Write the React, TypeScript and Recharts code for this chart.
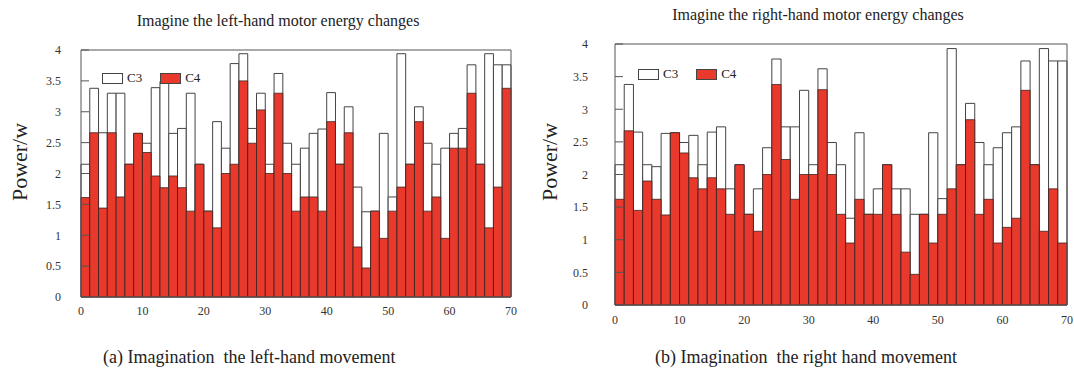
import { BarChart, Bar, XAxis, YAxis, Legend } from 'recharts';

const idx = Array.from({ length: 49 }, (_, i) => i + 1);

const leftC3 = [2.15, 3.38, 2.66, 3.3, 3.3, 2.15, 2.65, 2.49, 3.39, 3.49, 2.65, 2.73, 3.3, 2.15, 1.39, 2.84, 2.41, 3.78, 3.94, 2.73, 3.3, 2.15, 3.62, 2.49, 2.15, 2.41, 2.65, 2.72, 3.31, 2.15, 3.08, 1.78, 1.38, 1.39, 2.65, 1.62, 3.94, 2.15, 3.08, 2.49, 2.15, 2.41, 2.65, 2.73, 3.76, 2.15, 3.94, 3.76, 3.76];
const leftC4 = [1.61, 2.66, 1.44, 2.66, 1.62, 2.15, 2.65, 2.34, 1.96, 1.77, 1.96, 1.77, 1.39, 2.15, 1.39, 1.12, 2.0, 2.15, 3.5, 2.49, 3.03, 2.0, 3.3, 2.0, 1.39, 1.62, 1.62, 1.39, 2.84, 2.15, 2.66, 0.81, 0.47, 1.39, 0.95, 1.39, 1.78, 2.15, 2.84, 1.39, 1.62, 0.95, 2.41, 2.41, 3.3, 2.15, 1.12, 1.78, 3.38];
const rightC3 = [2.15, 3.38, 2.65, 2.15, 2.12, 2.63, 2.64, 2.49, 2.6, 2.15, 2.65, 2.73, 1.78, 2.15, 1.39, 1.78, 2.41, 3.77, 2.73, 2.73, 3.29, 2.15, 3.62, 2.49, 2.15, 1.33, 2.64, 1.39, 1.78, 2.15, 1.78, 1.78, 1.39, 1.39, 2.64, 1.63, 3.93, 2.15, 3.09, 2.49, 2.15, 2.41, 2.64, 2.73, 3.74, 2.15, 3.93, 3.74, 3.74];
const rightC4 = [1.62, 2.67, 1.45, 1.9, 1.62, 1.38, 2.64, 2.33, 1.95, 1.78, 1.95, 1.78, 1.39, 2.15, 1.39, 1.13, 2.0, 3.38, 2.23, 1.62, 2.0, 2.0, 3.3, 2.0, 1.39, 0.95, 1.62, 1.39, 1.39, 2.15, 1.39, 0.81, 0.47, 1.39, 0.95, 1.39, 1.78, 2.15, 2.84, 1.39, 1.62, 0.95, 1.19, 1.33, 3.29, 2.15, 1.13, 1.78, 0.95];

const xTicks = [0, 10, 20, 30, 40, 50, 60, 70];
const topTicks = [0, 5, 10, 15, 20, 25, 30, 35, 40, 45, 50, 55, 60, 65, 70];
const yTicks = [0, 0.5, 1, 1.5, 2, 2.5, 3, 3.5, 4];

const FONT = '"Liberation Serif", "DejaVu Serif", serif';
const RED = '#e8392c';
const AXIS = '#555';

const tickStyle = { fontSize: 12, fill: '#333', fontFamily: FONT };

function LegendBoxes(props: any) {
  const items = props.payload || [];
  return (
    <div style={{ display: 'flex', alignItems: 'center', fontFamily: FONT, fontSize: 13, color: '#222' }}>
      {items.map((it: any) => (
        <div key={it.value} style={{ display: 'flex', alignItems: 'center', marginRight: 18 }}>
          <span style={{ display: 'inline-block', width: 19, height: 9, border: '1px solid #444', background: it.color }} />
          <span style={{ marginLeft: 4 }}>{it.value}</span>
        </div>
      ))}
    </div>
  );
}

interface PanelProps {
  c3: number[];
  c4: number[];
  width: number;
  height: number;
  margin: { top: number; right: number; bottom: number; left: number };
  plotW: number;
  yTickMargin: number;
  xTickMargin: number;
  legendPos: { left: number; top: number };
}

function Panel({ c3, c4, width, height, margin, plotW, yTickMargin, xTickMargin, legendPos }: PanelProps) {
  const data = idx.map((n, i) => ({ idx: n, C3: c3[i], C4: c4[i] }));
  const band = plotW / idx.length - 0.01;
  return (
    <BarChart width={width} height={height} data={data} margin={margin} barCategoryGap={0} barGap={-band} barSize={band}>
      <XAxis xAxisId="cat" dataKey="idx" hide height={0} />
      <XAxis
        xAxisId="num"
        dataKey="idx"
        type="number"
        domain={[0, 70]}
        allowDataOverflow
        ticks={xTicks}
        height={30}
        tickSize={0}
        tickMargin={xTickMargin}
        tickLine={false}
        axisLine={{ stroke: AXIS }}
        tick={tickStyle}
      />
      <XAxis
        xAxisId="top"
        dataKey="idx"
        orientation="top"
        type="number"
        domain={[0, 70]}
        allowDataOverflow
        ticks={topTicks}
        height={1}
        tickSize={-11}
        tick={false}
        tickLine={{ stroke: AXIS }}
        axisLine={{ stroke: AXIS }}
      />
      <YAxis
        domain={[0, 4]}
        ticks={yTicks}
        width={60}
        tickSize={-8}
        tickMargin={yTickMargin}
        tickLine={{ stroke: AXIS }}
        axisLine={{ stroke: AXIS }}
        tick={tickStyle}
      />
      <YAxis yAxisId="r" orientation="right" domain={[0, 4]} width={1} tick={false} tickLine={false} axisLine={{ stroke: AXIS }} />
      <Legend
        layout="horizontal"
        verticalAlign="middle"
        align="center"
        content={<LegendBoxes />}
        wrapperStyle={{ left: legendPos.left, top: legendPos.top, width: 'auto' }}
      />
      <Bar xAxisId="cat" dataKey="C3" name="C3" fill="#ffffff" stroke="#444" strokeWidth={1} isAnimationActive={false} />
      <Bar xAxisId="cat" dataKey="C4" name="C4" fill={RED} stroke="#3b2320" strokeWidth={0.8} isAnimationActive={false} />
    </BarChart>
  );
}

const absText = (extra: any) => ({ position: 'absolute' as const, fontFamily: FONT, color: '#222', whiteSpace: 'pre' as const, ...extra });

export default function App() {
  return (
    <div style={{ position: 'absolute', left: 0, top: 0, width: 1074, height: 372, background: '#fff', overflow: 'hidden' }}>
      <div style={absText({ left: 278, top: 21, fontSize: 16, transform: 'translate(-50%, -50%)' })}>
        Imagine the left-hand motor energy changes
      </div>
      <div style={absText({ left: 818, top: 15, fontSize: 16, transform: 'translate(-50%, -50%)' })}>
        Imagine the right-hand motor energy changes
      </div>
      <div style={absText({ left: 20, top: 162, fontSize: 22, transform: 'translate(-50%, -50%) rotate(-90deg)' })}>Power/w</div>
      <div style={absText({ left: 550, top: 162, fontSize: 22, transform: 'translate(-50%, -50%) rotate(-90deg)' })}>Power/w</div>

      <div style={{ position: 'absolute', left: 0, top: 0 }}>
        <Panel
          c3={leftC3}
          c4={leftC4}
          width={540}
          height={330}
          margin={{ top: 49, right: 28, bottom: 3, left: 21 }}
          plotW={430}
          yTickMargin={28}
          xTickMargin={9}
          legendPos={{ left: 102, top: 70 }}
        />
      </div>
      <div style={{ position: 'absolute', left: 537, top: 0 }}>
        <Panel
          c3={rightC3}
          c4={rightC4}
          width={537}
          height={340}
          margin={{ top: 43, right: 6, bottom: 5, left: 18 }}
          plotW={452}
          yTickMargin={35}
          xTickMargin={10}
          legendPos={{ left: 101, top: 66 }}
        />
      </div>

      <div style={absText({ left: 103, top: 357, fontSize: 18, transform: 'translateY(-50%)' })}>
        (a) Imagination  the left-hand movement
      </div>
      <div style={absText({ left: 655, top: 357, fontSize: 18, transform: 'translateY(-50%)' })}>
        (b) Imagination  the right hand movement
      </div>
    </div>
  );
}
